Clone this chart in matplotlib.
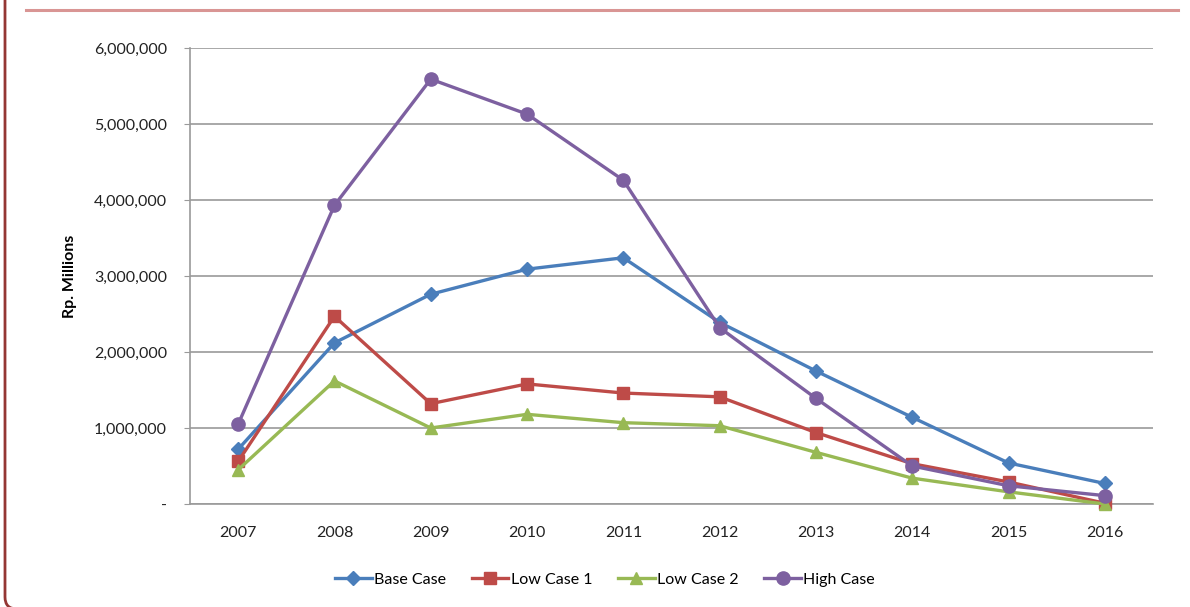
import matplotlib
matplotlib.use("Agg")
import matplotlib.pyplot as plt
from matplotlib.ticker import FuncFormatter
from matplotlib.patches import FancyBboxPatch
from matplotlib.lines import Line2D
from matplotlib.transforms import IdentityTransform

years = ["2007", "2008", "2009", "2010", "2011", "2012", "2013", "2014", "2015", "2016"]
base_case = [720000, 2120000, 2760000, 3090000, 3240000, 2390000, 1750000, 1140000, 540000, 270000]
low_case_1 = [560000, 2470000, 1320000, 1580000, 1460000, 1410000, 940000, 530000, 290000, 10000]
low_case_2 = [450000, 1620000, 1000000, 1180000, 1070000, 1030000, 680000, 340000, 160000, 0]
high_case = [1050000, 3930000, 5590000, 5130000, 4260000, 2320000, 1390000, 500000, 240000, 110000]
series_names = ["Base Case", "Low Case 1", "Low Case 2", "High Case"]
y_ticks = [0, 1000000, 2000000, 3000000, 4000000, 5000000, 6000000]

plt.rcParams['font.family'] = ['Lato', 'DejaVu Sans']
FS = 11.5

W, H = 1190, 607
fig = plt.figure(figsize=(W / 100, H / 100), dpi=100)

# decorative page frame
fig.add_artist(Line2D([26 / W, 1178 / W], [1 - 10 / H, 1 - 10 / H], color="#D99594", lw=2.2))
frame = FancyBboxPatch((5, -2), 1400, 700,
                       boxstyle="round,pad=0,rounding_size=12",
                       transform=IdentityTransform(), fill=False, ec="#943634", lw=2.0)
fig.add_artist(frame)

ax = fig.add_axes([190 / W, 1 - 504 / H, (1153 - 190) / W, (504 - 48) / H])
x = list(range(len(years)))
styles = [
    (base_case, "#4A7EBB", "D", 7),
    (low_case_1, "#BE4B48", "s", 8.5),
    (low_case_2, "#98B954", "^", 8.5),
    (high_case, "#7D60A0", "o", 9.5),
]
for (vals, c, m, ms), name in zip(styles, series_names):
    ax.plot(x, vals, color=c, marker=m, markersize=ms, lw=2.4, label=name,
            markeredgecolor=c, zorder=3, clip_on=False)

ax.set_xlim(-0.5, len(years) - 0.5)
ax.set_ylim(0, 6000000)
ax.set_yticks(y_ticks)
ax.yaxis.set_major_formatter(FuncFormatter(lambda v, p: "-" if v == 0 else f"{int(v):,}"))
ax.set_xticks(x)
ax.set_xticklabels(years)
ax.grid(axis="y", color="#9A9A9A", lw=1.2)
ax.set_axisbelow(True)
for s in ["top", "right"]:
    ax.spines[s].set_visible(False)
for s in ["left", "bottom"]:
    ax.spines[s].set_color("#9A9A9A")
    ax.spines[s].set_linewidth(1.2)
ax.tick_params(axis="y", length=4, color="#9A9A9A", labelsize=FS, pad=12.5, labelcolor="#222222")
ax.tick_params(axis="x", length=0, labelsize=FS, pad=16, labelcolor="#222222")
ax.set_ylabel("Rp. Millions", fontsize=FS, fontweight="bold", labelpad=12)

leg = fig.legend(loc="center", bbox_to_anchor=(605 / W, 1 - 580 / H), ncol=4, frameon=False,
                 fontsize=FS, handlelength=2.3, columnspacing=1.6, handletextpad=0.15)

fig.savefig("out.png", dpi=100)
